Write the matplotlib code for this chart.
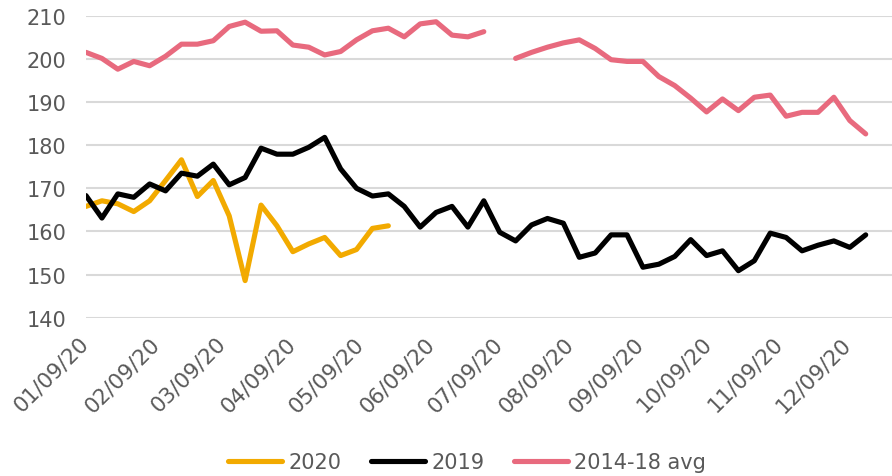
import matplotlib
matplotlib.use("Agg")
import matplotlib.pyplot as plt
import numpy as np
import pandas as pd

# Weekly dates starting 2020-01-09
start_date = "2020-01-09"
n_weeks = 50

vals_2020 = [165.8, 167.1, 166.4, 164.6, 167.1, 171.8, 176.6, 168.1, 171.8, 163.6,
             148.6, 166.1, 161.3, 155.3, 157.1, 158.6, 154.4, 155.8, 160.7, 161.3]

vals_2019 = [168.3, 163.1, 168.7, 167.9, 171.0, 169.4, 173.5, 172.8, 175.6, 170.8,
             172.5, 179.3, 177.9, 177.9, 179.5, 181.8, 174.5, 170.0, 168.2, 168.7,
             165.8, 161.0, 164.4, 165.8, 161.0, 167.1, 159.8, 157.8, 161.5, 163.0,
             161.9, 154.0, 155.0, 159.2, 159.2, 151.7, 152.4, 154.2, 158.1, 154.4,
             155.5, 150.9, 153.2, 159.6, 158.6, 155.5, 156.8, 157.8, 156.3, 159.2]

vals_avg = [201.5, 200.1, 197.6, 199.4, 198.4, 200.6, 203.4, 203.4, 204.2, 207.5,
            208.5, 206.4, 206.5, 203.2, 202.7, 200.9, 201.7, 204.4, 206.5, 207.1,
            205.1, 208.1, 208.6, 205.5, 205.1, 206.3, np.nan, 200.1, 201.5, 202.7,
            203.7, 204.4, 202.4, 199.8, 199.4, 199.4, 195.9, 193.8, 190.9, 187.7,
            190.7, 188.0, 191.1, 191.6, 186.7, 187.6, 187.6, 191.1, 185.7, 182.6]

tick_labels = ["01/09/20", "02/09/20", "03/09/20", "04/09/20", "05/09/20", "06/09/20",
               "07/09/20", "08/09/20", "09/09/20", "10/09/20", "11/09/20", "12/09/20"]

dates = pd.date_range(start_date, periods=n_weeks, freq="7D")
t0 = dates[0]
x_all = np.array([(d - t0).days for d in dates], dtype=float)
tick_dates = pd.date_range(start_date, periods=12, freq=pd.DateOffset(months=1))
tick_pos = [(d - t0).days for d in tick_dates]

plt.rcParams['font.family'] = ['DejaVu Sans']
text_color = "#595959"

fig = plt.figure(figsize=(8.92, 4.77), dpi=100)
ax = fig.add_axes([86/892, 1 - 318.7/477, 1 - 86/892, (318.7 - 16.7)/477])

c2020 = "#F2AA00"
c2019 = "#000000"
cavg = "#E86A7E"
lw = 3.7

ax.plot(x_all[:len(vals_2020)], vals_2020, color=c2020, lw=lw, label="2020",
        solid_capstyle="round", solid_joinstyle="round", zorder=3)
ax.plot(x_all, vals_2019, color=c2019, lw=lw, label="2019",
        solid_capstyle="round", solid_joinstyle="round", zorder=3)
ax.plot(x_all, vals_avg, color=cavg, lw=lw, label="2014-18 avg",
        solid_capstyle="round", solid_joinstyle="round", zorder=3)

ax.set_ylim(140, 210)
ax.set_yticks(np.arange(140, 211, 10))
ax.set_xlim(0, (892 - 86) / (779.7 / 343))
ax.set_xticks(tick_pos)
ax.set_xticklabels(tick_labels, rotation=45, ha="right", va="center",
                   rotation_mode="anchor", fontsize=15.5)

ax.grid(axis="y", color="#D9D9D9", lw=1.5)
ax.grid(axis="x", visible=False)
ax.set_axisbelow(True)
for s in ax.spines.values():
    s.set_visible(False)
ax.tick_params(axis="both", length=0, labelcolor=text_color)
ax.tick_params(axis="y", pad=14, labelsize=15)
ax.tick_params(axis="x", pad=16)

leg = fig.legend(loc="center", bbox_to_anchor=(467/892, 1 - 463/477), ncol=3,
                 frameon=False, fontsize=15, handlelength=2.6, columnspacing=1.4,
                 handletextpad=0.3)
for t in leg.get_texts():
    t.set_color(text_color)

fig.savefig("out.png", dpi=100)
